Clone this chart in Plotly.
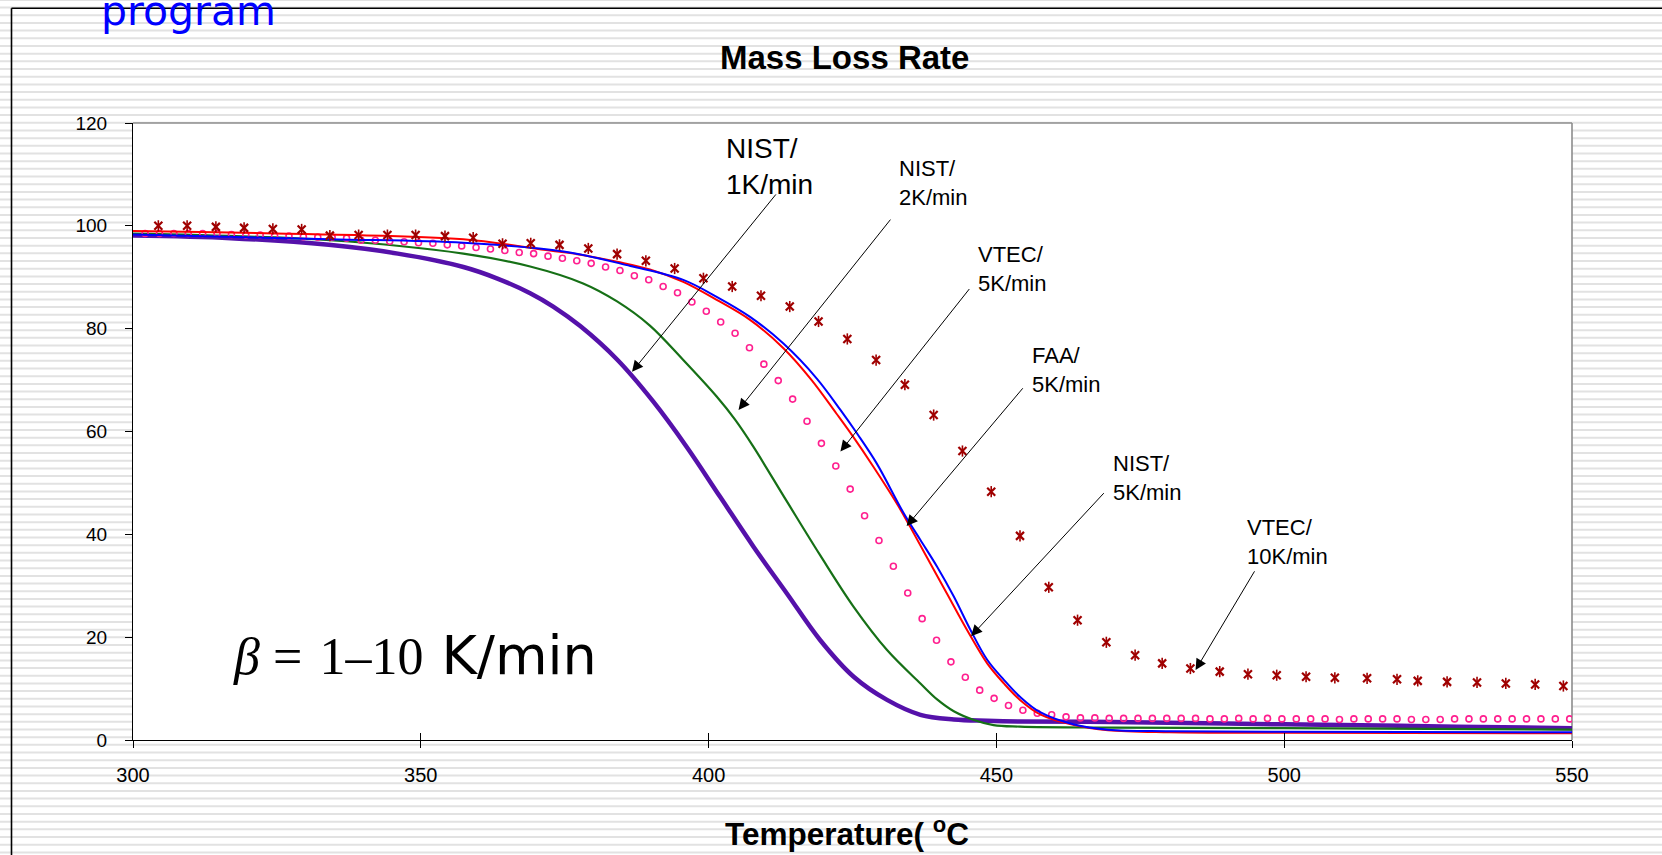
import plotly.graph_objects as go

# ---------------------------------------------------------------- data
# NIST, 1 K/min
nist1_temp = [300, 317, 334, 346, 357.4, 363.2, 369, 373, 377.7, 384.1, 390.4, 396.2,
              402, 407.8, 413.6, 419.4, 425.2, 431, 436.8, 442.6, 448.4, 454.1, 470, 490,
              510, 530, 550]
nist1_mass = [98.1, 97.6, 96.3, 94.6, 92.0, 89.8, 86.9, 84.3, 80.5, 74.0, 65.8, 57.0,
              47.3, 37.6, 28.5, 19.4, 12.3, 7.8, 4.9, 4.0, 3.75, 3.6, 3.5, 3.2,
              2.9, 2.6, 2.3]

# NIST, 2 K/min
nist2_temp = [300, 334.2, 357.4, 369, 378.2, 384.1, 389.8, 395.6, 401.4, 404.6, 407.8,
              413.6, 419.4, 425.2, 431, 436.8, 439.7, 442.6, 446.1, 449.5, 454.1, 470,
              500, 550]
nist2_mass = [98.5, 97.2, 94.6, 92.1, 88.8, 85.3, 80.6, 73.9, 66.8, 62.3, 57.0,
              46.4, 35.9, 25.9, 17.5, 11.0, 7.9, 5.6, 3.9, 2.9, 2.6, 2.4,
              2.3, 2.0]

# VTEC, 5 K/min
vtec5_temp = [302.1, 304.6, 307.1, 309.6, 312.1, 314.6, 317.1, 319.6, 322.1, 324.6,
              327.1, 329.6, 332.1, 334.6, 337.1, 339.6, 342.1, 344.6, 347.1, 349.6,
              352.1, 354.6, 357.1, 359.6, 362.1, 364.6, 367.1, 369.6, 372.1, 374.6,
              377.1, 379.6, 382.1, 384.6, 387.1, 389.6, 392.1, 394.6, 397.1, 399.6,
              402.1, 404.6, 407.1, 409.6, 412.1, 414.6, 417.1, 419.6, 422.1, 424.6,
              427.1, 429.6, 432.1, 434.6, 437.1, 439.6, 442.1, 444.6, 447.1, 449.6,
              452.1, 454.6, 457.1, 459.6, 462.1, 464.6, 467.1, 469.6, 472.1, 474.6,
              477.1, 479.6, 482.1, 484.6, 487.1, 489.6, 492.1, 494.6, 497.1, 499.6,
              502.1, 504.6, 507.1, 509.6, 512.1, 514.6, 517.1, 519.6, 522.1, 524.6,
              527.1, 529.6, 532.1, 534.6, 537.1, 539.6, 542.1, 544.6, 547.1, 549.6]
vtec5_mass = [98.5, 98.5, 98.5, 98.5, 98.5, 98.5, 98.3, 98.2, 98.2, 98.1,
              98.0, 97.9, 97.8, 97.8, 97.6, 97.2, 97.2, 97.0, 96.9, 96.7,
              96.6, 96.3, 96.1, 95.8, 95.5, 95.2, 94.8, 94.6, 94.1, 93.7,
              93.2, 92.7, 92.0, 91.3, 90.3, 89.5, 88.2, 87.0, 85.2, 83.4,
              81.3, 79.1, 76.3, 73.1, 69.9, 66.3, 62.0, 57.7, 53.3, 48.8,
              43.6, 38.8, 33.8, 28.6, 23.6, 19.4, 15.2, 12.2, 9.7, 8.1,
              6.7, 5.8, 5.2, 4.9, 4.5, 4.3, 4.3, 4.2, 4.2, 4.2,
              4.2, 4.2, 4.2, 4.2, 4.1, 4.1, 4.2, 4.1, 4.2, 4.1,
              4.1, 4.1, 4.1, 4.0, 4.1, 4.1, 4.1, 4.1, 4.0, 4.0,
              4.0, 4.1, 4.1, 4.1, 4.1, 4.1, 4.1, 4.1, 4.1, 4.1]

# FAA, 5 K/min
faa5_temp = [300, 334.2, 357.4, 372.4, 378.3, 384.1, 389.8, 395.6, 401.4, 407.2, 413,
             417.9, 422.2, 425.1, 428.6, 432.7, 435, 437.9, 441.4, 444.9, 448.4, 451.3,
             454.1, 457.6, 463.5, 469.4, 480, 500, 550]
faa5_mass = [99.0, 98.3, 97.4, 95.2, 94.3, 93.0, 91.5, 89.1, 85.6, 81.7, 76.2,
             70.0, 63.5, 59.0, 53.2, 46.0, 41.5, 35.6, 28.5, 21.4, 14.9, 11.0,
             7.8, 5.0, 2.9, 1.9, 1.5, 1.4, 1.3]

# NIST, 5 K/min
nist5_temp = [300, 334.2, 357.4, 374.8, 386.4, 395.6, 401.4, 407.2, 413, 418.8, 422.9,
              425.8, 429.2, 433.9, 436.8, 439.7, 442.6, 445.5, 448.4, 451.3, 454.1,
              457.6, 463.5, 469.4, 480, 500, 550]
nist5_mass = [98.3, 97.4, 96.7, 95.0, 92.2, 89.5, 86.2, 82.3, 77.1, 70.3, 64.2,
              59.6, 53.8, 44.1, 38.9, 33.7, 27.9, 21.4, 15.6, 11.7, 8.4,
              5.4, 3.0, 2.0, 1.7, 1.6, 1.5]

# VTEC, 10 K/min
vtec10_temp = [304.4, 309.4, 314.4, 319.3, 324.3, 329.3, 334.2, 339.2, 344.2, 349.1,
               354.2, 359.1, 364.2, 369.1, 374.1, 379.1, 384.1, 389.1, 394.1, 399.1,
               404.1, 409.1, 414.1, 419.1, 424.1, 429.1, 434.1, 439.1, 444.1, 449.1,
               454.1, 459.1, 464.1, 469.1, 474.1, 478.8, 483.7, 488.8, 493.7, 498.7,
               503.8, 508.8, 514.4, 519.6, 523.2, 528.3, 533.5, 538.5, 543.6, 548.5]
vtec10_mass = [100.0, 100.0, 99.8, 99.6, 99.4, 99.3, 98.1, 98.2, 98.2, 98.2,
               98.0, 97.7, 96.5, 96.6, 96.3, 95.6, 94.5, 93.2, 91.7, 89.8,
               88.2, 86.4, 84.3, 81.4, 78.0, 73.9, 69.1, 63.2, 56.2, 48.3,
               39.7, 29.7, 23.3, 19.0, 16.5, 14.9, 13.9, 13.3, 12.8, 12.6,
               12.3, 12.1, 12.0, 11.8, 11.5, 11.3, 11.2, 11.0, 10.8, 10.5]

# curve labels: text, arrow tip (temp, mass), arrow tail (temp, mass)
label_texts = ["NIST/<br>1K/min", "NIST/<br>2K/min", "VTEC/<br>5K/min",
               "FAA/<br>5K/min", "NIST/<br>5K/min", "VTEC/<br>10K/min"]
arrow_tips = [(386.7, 71.6), (405.2, 64.2), (422.9, 56.1),
              (434.4, 41.6), (445.6, 20.2), (484.6, 13.6)]
arrow_tails = [(411.9, 106.4), (431.8, 101.5), (445.5, 88.0),
               (454.8, 68.7), (468.9, 48.3), (495.0, 33.1)]

x_ticks = [300, 350, 400, 450, 500, 550]
y_ticks = [0, 20, 40, 60, 80, 100, 120]

# ---------------------------------------------------------------- layout geometry
W, H = 1662, 855
ML, MR, MT, MB = 133, 90, 123, 115
PW, PH = W - ML - MR, H - MT - MB


def px_x(X):
    return (X - ML) / PW


def px_y(Y):
    return (H - MB - Y) / PH


SANS = "Liberation Sans, Arial, sans-serif"
SMOOTH = 1.0

fig = go.Figure()

fig.add_trace(go.Scatter(x=nist1_temp, y=nist1_mass, mode="lines",
                         line=dict(color="#5511aa", width=4.5, shape="spline", smoothing=SMOOTH)))
fig.add_trace(go.Scatter(x=nist2_temp, y=nist2_mass, mode="lines",
                         line=dict(color="#167016", width=2.2, shape="spline", smoothing=SMOOTH)))
fig.add_trace(go.Scatter(x=vtec5_temp, y=vtec5_mass, mode="markers",
                         marker=dict(symbol="circle-open", size=6, color="#ff1f8f",
                                     line=dict(width=1.6, color="#ff1f8f"))))
fig.add_trace(go.Scatter(x=faa5_temp, y=faa5_mass, mode="lines",
                         line=dict(color="#ff0000", width=2, shape="spline", smoothing=SMOOTH)))
fig.add_trace(go.Scatter(x=nist5_temp, y=nist5_mass, mode="lines",
                         line=dict(color="#0000ff", width=2, shape="spline", smoothing=SMOOTH)))
# star marker = diagonal cross + vertical bar
fig.add_trace(go.Scatter(x=vtec10_temp, y=vtec10_mass, mode="markers",
                         marker=dict(symbol="x-thin-open", size=8, color="#a00000",
                                     line=dict(width=2.2, color="#a00000"))))
fig.add_trace(go.Scatter(x=vtec10_temp, y=vtec10_mass, mode="markers",
                         marker=dict(symbol="line-ns-open", size=8, color="#a00000",
                                     line=dict(width=1.6, color="#a00000"))))
# carrier for the inner half of the x ticks
fig.add_trace(go.Scatter(x=[], y=[], xaxis="x2", yaxis="y", mode="markers",
                         hoverinfo="skip"))

# ---------------------------------------------------------------- background
stripe_path = []
k = 0
while True:
    Y = -0.1 + 7.68 * k
    if Y > H + 2:
        break
    stripe_path.append(f"M{px_x(-2)},{px_y(Y)} L{px_x(W + 2)},{px_y(Y)}")
    k += 1

shapes = [
    dict(type="path", path=" ".join(stripe_path), xref="paper", yref="paper",
         line=dict(color="#e2e2e2", width=2), layer="below"),
    dict(type="rect", xref="paper", yref="paper", x0=0, x1=1, y0=0, y1=1,
         fillcolor="white", line=dict(width=0), layer="below"),
    # slide frame
    dict(type="line", xref="paper", yref="paper", x0=px_x(11.5), x1=px_x(W + 2),
         y0=px_y(8.3), y1=px_y(8.3), line=dict(color="black", width=1.6), layer="below"),
    dict(type="line", xref="paper", yref="paper", x0=px_x(11.5), x1=px_x(11.5),
         y0=px_y(8.3), y1=px_y(H + 2), line=dict(color="black", width=1.6), layer="below"),
    # plot area border (top / right)
    dict(type="line", xref="paper", yref="paper", x0=0, x1=1, y0=1, y1=1,
         line=dict(color="#8c8c8c", width=1.6), layer="below"),
    dict(type="line", xref="paper", yref="paper", x0=1, x1=1, y0=0, y1=1,
         line=dict(color="#8c8c8c", width=1.6), layer="below"),
]

# ---------------------------------------------------------------- text
annotations = [
    dict(text="<b>Mass Loss Rate</b>", xref="paper", yref="paper",
         x=px_x(844), y=px_y(58), xanchor="center", yanchor="middle",
         showarrow=False, font=dict(family=SANS, size=33, color="black")),
    dict(text="program", xref="paper", yref="paper",
         x=px_x(99), y=px_y(11), xanchor="left", yanchor="middle",
         showarrow=False, font=dict(family="DejaVu Sans", size=41, color="#0000ff")),
    dict(text="<b>Temperature( <sup>o</sup>C</b>", xref="paper", yref="paper",
         x=px_x(846.5), y=px_y(832), xanchor="center", yanchor="middle",
         showarrow=False, font=dict(family=SANS, size=31.5, color="black")),
    dict(text='<i>β</i> =\u20041–10<span style="font-family:DejaVu Sans;font-size:54px">'
              '\u2004K/min</span>',
         xref="paper", yref="paper", x=px_x(231), y=px_y(655), xanchor="left",
         yanchor="middle", showarrow=False,
         font=dict(family="Liberation Serif, Times New Roman, serif", size=52, color="black")),
]

label_boxes = [(724, 166, 28), (897, 183, 22), (976, 269, 22),
               (1030, 370, 22), (1111, 478, 22), (1245, 542, 22)]
for txt, (lx, ly, fs) in zip(label_texts, label_boxes):
    annotations.append(dict(text=txt, xref="paper", yref="paper", x=px_x(lx), y=px_y(ly),
                            xanchor="left", yanchor="middle", align="left",
                            showarrow=False,
                            font=dict(family=SANS, size=fs, color="black")))

for (tx, ty), (ax, ay) in zip(arrow_tips, arrow_tails):
    annotations.append(dict(text="", x=tx, y=ty, xref="x", yref="y",
                            ax=ax, ay=ay, axref="x", ayref="y",
                            showarrow=True, arrowhead=2, arrowsize=2.2, arrowwidth=1,
                            arrowcolor="black", standoff=0, startstandoff=0))

fig.update_layout(
    width=W, height=H,
    margin=dict(l=ML, r=MR, t=MT, b=MB, pad=0),
    paper_bgcolor="white", plot_bgcolor="white",
    showlegend=False,
    font=dict(family=SANS, color="black"),
    shapes=shapes,
    annotations=annotations,
    xaxis=dict(range=[300, 550], tickvals=x_ticks, ticks="outside", ticklen=7,
               tickcolor="black", tickwidth=1, showline=True, linecolor="black",
               linewidth=1, showgrid=False, zeroline=False, automargin=False,
               tickfont=dict(family=SANS, size=20, color="black"),
               ticklabelstandoff=10),
    xaxis2=dict(range=[300, 550], overlaying="x", anchor="y", side="bottom",
                tickvals=x_ticks, ticks="inside", ticklen=7, tickcolor="black",
                tickwidth=1, showticklabels=False, showline=False, showgrid=False,
                zeroline=False, automargin=False),
    yaxis=dict(range=[0, 120], tickvals=y_ticks, ticks="outside", ticklen=7,
               tickcolor="black", tickwidth=1, showline=True, linecolor="black",
               linewidth=1, showgrid=False, zeroline=False, automargin=False,
               tickfont=dict(family=SANS, size=19, color="black"),
               ticklabelstandoff=14),
)

fig.write_html("out.html")
